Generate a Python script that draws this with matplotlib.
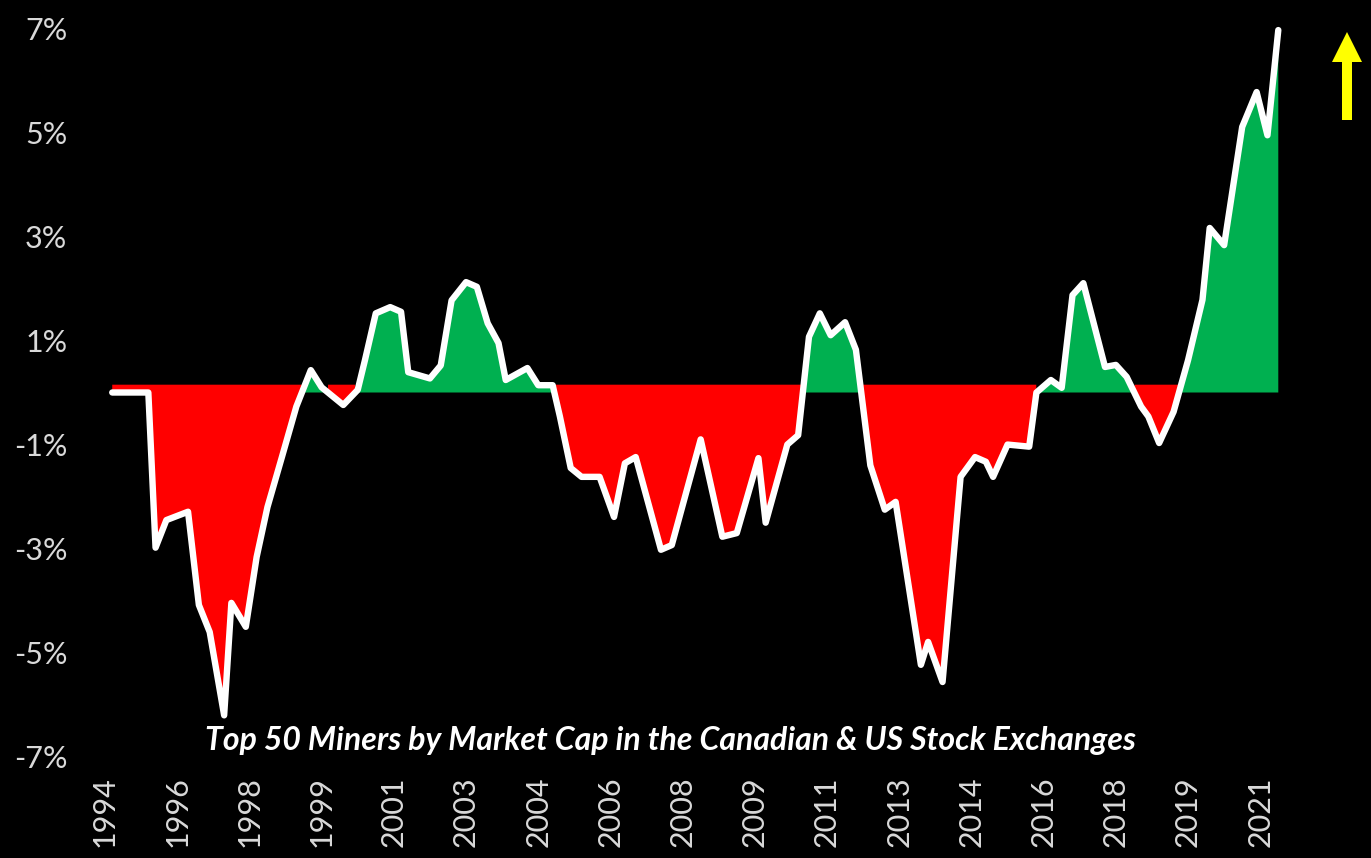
import numpy as np
import matplotlib
matplotlib.use("Agg")
import matplotlib.pyplot as plt
from matplotlib.patches import FancyArrow

# ---- data ----
start_offset = 2  # first observation, in months after the first labelled tick
months = [0, 10, 12, 15, 21, 24, 27, 31, 33, 37, 40, 43, 47, 51, 55, 58, 64, 68, 70, 73,
          77, 80, 82, 88, 91, 94, 98, 101, 104, 107, 109, 115, 118, 122, 124, 127, 130, 135,
          139, 142, 145, 152, 155, 163, 169, 173, 179, 181, 187, 190, 193, 196, 199, 203,
          206, 210, 214, 217, 224, 226, 230, 235, 239, 242, 244, 248, 254, 256, 260, 263,
          266, 269, 275, 278, 281, 285, 287, 290, 294, 298, 302, 304, 308, 313, 317, 320, 323]
values = [0.0, 0.0, -2.98, -2.45, -2.29, -4.08, -4.6, -6.2, -4.04, -4.5, -3.16, -2.2, -1.24,
          -0.27, 0.43, 0.1, -0.24, 0.05, 0.62, 1.52, 1.64, 1.55, 0.39, 0.27, 0.52, 1.77, 2.12,
          2.03, 1.33, 0.95, 0.24, 0.47, 0.14, 0.14, -0.46, -1.45, -1.62, -1.62, -2.39, -1.36,
          -1.24, -3.02, -2.93, -0.9, -2.77, -2.7, -1.26, -2.5, -1.0, -0.82, 1.07, 1.52, 1.1,
          1.35, 0.82, -1.4, -2.25, -2.1, -5.23, -4.79, -5.56, -1.62, -1.24, -1.33, -1.62,
          -1.0, -1.04, 0.0, 0.24, 0.09, 1.87, 2.1, 0.49, 0.53, 0.3, -0.27, -0.46, -0.97,
          -0.37, 0.62, 1.78, 3.16, 2.83, 5.1, 5.77, 4.94, 6.96]
assert len(months) == len(values)

tick_months = [0, 20, 40, 60, 80, 100, 120, 140, 160, 180, 200, 220, 240, 260, 280, 300, 320]
tick_labels = ["1994", "1996", "1998", "1999", "2001", "2003", "2004", "2006", "2008",
               "2009", "2011", "2013", "2014", "2016", "2018", "2019", "2021"]
y_ticks = [-7, -5, -3, -1, 1, 3, 5, 7]
y_labels = ["-7%", "-5%", "-3%", "-1%", "1%", "3%", "5%", "7%"]
title = "Top 50 Miners by Market Cap in the Canadian & US Stock Exchanges"

x = np.array(months, dtype=float) + start_offset
y = np.array(values, dtype=float)

# ---- figure ----
W, H = 1371, 858
fig = plt.figure(figsize=(W / 100, H / 100), dpi=100, facecolor="black")
ax = fig.add_axes([101.4 / W, 101 / H, 1180.5 / W, 729 / H])
ax.set_facecolor("black")

# dense grid only for rendering the fills
xd = np.linspace(x[0], x[-1], 4000)
yd = np.interp(xd, x, y)
ax.fill_between(xd, np.minimum(yd, 0), 0.15, where=yd <= 0, color="#FF0000",
                linewidth=0, zorder=1)
ax.fill_between(xd, 0, np.maximum(yd, 0), where=yd > 0, color="#00B050",
                linewidth=0, zorder=2)
ax.plot(x, y, color="white", linewidth=4.6, solid_joinstyle="round",
        solid_capstyle="round", zorder=3, clip_on=False)

ax.set_xlim(-1, 326)
ax.set_ylim(-7, 7)
ax.set_xticks(tick_months)
ax.set_xticklabels(tick_labels, rotation=90, fontsize=22, color="#D9D9D9",
                   family="Lato")
ax.set_yticks(y_ticks)
ax.set_yticklabels(y_labels, fontsize=22, color="#D9D9D9", family="Lato")
ax.tick_params(axis="both", length=0)
ax.tick_params(axis="y", pad=24.5)
ax.tick_params(axis="x", pad=14)
for s in ax.spines.values():
    s.set_visible(False)

ax.text(0.4825, 0.0233, title, transform=ax.transAxes, ha="center", va="center",
        fontsize=23, fontweight="bold", fontstyle="italic", color="white",
        family="Lato")

# yellow arrow (decoration)
arr = FancyArrow(1347 / W, 1 - 120 / H, 0, 88 / H, width=10 / W,
                 head_width=30 / W, head_length=30 / H,
                 length_includes_head=True, transform=fig.transFigure,
                 color="#FFFF00", linewidth=0)
fig.patches.append(arr)

fig.savefig("out.png", dpi=100, facecolor="black")
